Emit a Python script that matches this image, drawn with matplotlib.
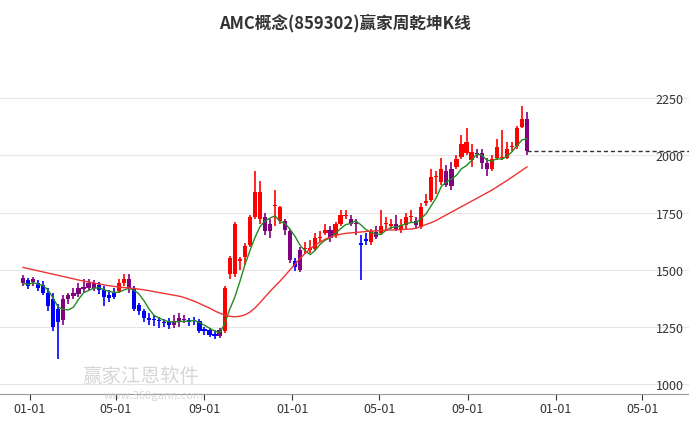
import matplotlib
matplotlib.use("Agg")
import matplotlib.pyplot as plt
import matplotlib.dates as mdates
import numpy as np
import pandas as pd

plt.rcParams['font.family'] = ['Noto Sans CJK SC', 'DejaVu Sans']

title = "AMC概念(859302)赢家周乾坤K线"
opens = [1465,1455,1445,1440,1435,1400,1370,1330,1280,1370,1385,1395,1425,1440,1420,1435,1410,1390,1380,1405,
         1440,1460,1420,1345,1320,1290,1285,1280,1270,1275,1260,1270,1285,1280,1280,1275,1240,1235,1220,1210,
         1230,1480,1700,1540,1555,1610,1730,1840,1730,1700,1780,1773,1715,1670,1540,1500,1590,1585,1590,1640,
         1660,1675,1650,1698,1735,1720,1700,1610,1625,1620,1645,1660,1700,1690,1700,1675,1695,1730,1715,1685,
         1790,1803,1905,1885,1930,1940,1950,1995,2060,2015,2010,2010,1965,1940,1990,1990,1990,2035,2040,2125,
         2160]
closes = [1440,1430,1460,1420,1400,1340,1250,1270,1370,1390,1400,1420,1415,1420,1440,1410,1380,1375,1400,1440,
          1460,1420,1330,1320,1290,1280,1280,1275,1265,1260,1275,1290,1280,1270,1275,1230,1230,1215,1210,1235,
          1420,1550,1480,1545,1605,1730,1840,1720,1670,1670,1780,1715,1675,1543,1510,1587,1595,1595,1640,1645,
          1675,1640,1698,1738,1735,1700,1700,1612,1635,1670,1665,1690,1700,1700,1680,1695,1730,1730,1695,1773,
          1800,1905,1905,1940,1870,1865,1985,2050,2010,1980,2005,1965,1940,1985,2035,1992,2030,2037,2120,2160,
          2020]
highs = [1475,1465,1470,1455,1450,1420,1400,1350,1390,1400,1420,1440,1460,1460,1455,1445,1430,1410,1420,1460,
         1480,1480,1430,1355,1330,1310,1300,1295,1285,1290,1300,1310,1300,1290,1295,1285,1250,1245,1235,1245,
         1430,1560,1710,1555,1615,1740,1930,1890,1750,1720,1850,1780,1720,1680,1550,1600,1620,1630,1660,1670,
         1700,1690,1710,1760,1760,1740,1720,1650,1660,1680,1690,1760,1730,1720,1740,1720,1750,1760,1730,1790,
         1830,1940,1930,1990,1960,1970,2000,2090,2120,2050,2030,2030,1990,2000,2070,2110,2060,2060,2130,2215,
         2190]
lows = [1430,1415,1430,1405,1390,1320,1230,1110,1260,1350,1370,1380,1400,1410,1405,1395,1340,1360,1370,1400,
        1430,1400,1320,1300,1270,1260,1255,1245,1250,1240,1245,1250,1265,1255,1260,1225,1215,1205,1195,1200,
        1225,1460,1470,1500,1520,1600,1720,1700,1650,1640,1690,1700,1650,1530,1495,1490,1570,1575,1580,1620,
        1650,1620,1640,1690,1720,1690,1650,1455,1610,1610,1635,1650,1670,1680,1670,1660,1680,1710,1680,1680,
        1780,1795,1830,1870,1860,1850,1940,1985,2000,1950,1990,1940,1910,1930,1980,1980,1985,2020,2030,2120,
        2000]
ma_long = [1510,1505,1500,1495,1490,1485,1480,1475,1470,1465,
           1460,1455,1450,1446,1442,1438,1434,1430,1427,1424,
           1422,1420,1418,1415,1412,1408,1404,1400,1396,1392,
           1388,1384,1378,1370,1362,1352,1342,1332,1320,1310,
           1302,1296,1294,1296,1302,1314,1332,1355,1380,1405,
           1428,1450,1475,1500,1525,1550,1572,1592,1608,1622,
           1634,1643,1650,1655,1659,1661,1663,1665,1667,1669,
           1670,1672,1673,1674,1675,1676,1677,1678,1682,
           1690,1698,1706,1716,1728,1740,1752,1764,1776,1788,
           1800,1812,1824,1836,1848,1862,1876,1890,1905,1920,
           1935,1950]
yticks = [1000, 1250, 1500, 1750, 2000, 2250]
xtick_dates = ["2023-01-01","2023-05-01","2023-09-01","2024-01-01","2024-05-01","2024-09-01","2025-01-01","2025-05-01"]

dates = pd.date_range(end="2024-11-22", periods=len(closes), freq="7D")
x = mdates.date2num(dates)
o, c, h, l = map(np.array, (opens, closes, highs, lows))
ma_short = pd.Series(closes).rolling(5, min_periods=1).mean().values
ma_l = np.array(ma_long)

fig = plt.figure(figsize=(6.89, 4.27), dpi=100)
ax = fig.add_axes([0, 0.075, 1, 0.81])
for yv in yticks:
    ax.axhline(yv, color="#e6e6e6", lw=0.8, zorder=0)

w = 5.8
for i in range(len(x)):
    if c[i] > ma_l[i] and c[i] > ma_short[i]:
        col = "#ff0000"
    elif c[i] < ma_l[i] and c[i] < ma_short[i]:
        col = "#0000ff"
    else:
        col = "#800080"
    ax.vlines(x[i], l[i], h[i], color=col, lw=1.2, zorder=2)
    lo, hi = min(o[i], c[i]), max(o[i], c[i])
    ax.bar(x[i], max(hi - lo, 5), bottom=lo, width=w, color=col, zorder=3)

ax.plot(x, ma_short, color="#228b22", lw=1.0, zorder=4)
ax.plot(x, ma_l, color="#ee3333", lw=1.0, zorder=4)
xmax = mdates.date2num(pd.Timestamp("2025-07-05"))
ax.hlines(c[-1], x[-1], xmax, colors="#333333", linestyles=(0, (3, 2)), lw=1.0, zorder=4)

ax.set_xlim(mdates.date2num(pd.Timestamp("2022-11-21")), xmax)
ax.set_ylim(956, 2470)
ax.set_yticks(yticks)
ax.yaxis.tick_right()
ax.tick_params(axis="y", direction="in", pad=-4, length=0, labelsize=9, colors="#333333")
for t in ax.get_yticklabels():
    t.set_horizontalalignment("right")
ax.set_xticks(mdates.date2num(pd.to_datetime(xtick_dates)))
ax.set_xticklabels([d[5:] for d in xtick_dates])
ax.tick_params(axis="x", length=4, labelsize=9, colors="#333333", pad=2)
for s in ["top", "left", "right"]:
    ax.spines[s].set_visible(False)
ax.spines["bottom"].set_color("#999999")

fig.text(0.5, 0.945, title, ha="center", va="center", fontsize=12, fontweight="bold", color="#333333")
fig.text(0.12, 0.105, "赢家江恩软件", fontsize=14, color="#cccccc", alpha=0.8)
fig.text(0.15, 0.065, "www.360gann.com", fontsize=8, color="#cccccc", alpha=0.8)

fig.savefig("out.png", dpi=100)
